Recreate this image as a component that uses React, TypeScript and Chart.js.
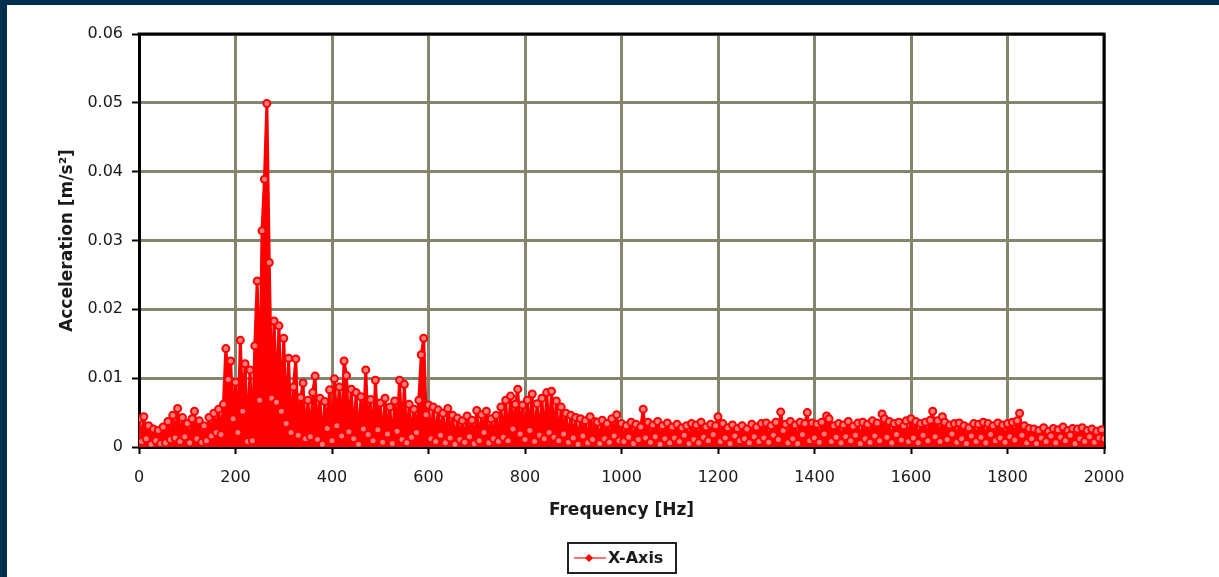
import React, { useEffect, useRef } from "react";
import { Chart, registerables } from "chart.js";

Chart.register(...registerables);

const FREQ_STEP_HZ = 5;
const SERIES_LABEL = "X-Axis";
const X_TITLE = "Frequency [Hz]";
const Y_TITLE = "Acceleration [m/s²]";
const X_TICK_LABELS = ["0", "200", "400", "600", "800", "1000", "1200", "1400", "1600", "1800", "2000"];
const Y_TICK_LABELS = ["0", "0.01", "0.02", "0.03", "0.04", "0.05", "0.06"];

// Acceleration amplitude [m/s²], one value every 5 Hz from 0 to 2000 Hz
const ACCEL = [
  .0041,.0008,.0044,.0012,.0031,.0004,.0026,.0009,.0024,.0005,
  .0029,.0006,.0037,.0011,.0046,.0013,.0056,.0008,.0043,.0015,
  .0034,.0006,.0041,.0052,.0012,.0038,.0007,.0031,.0009,.0043,
  .0016,.0049,.0021,.0055,.0018,.0062,.0143,.0098,.0125,.0041,
  .0094,.0021,.0155,.0052,.0121,.0008,.0112,.0009,.0147,.0241,
  .0068,.0314,.0389,.0499,.0268,.0071,.0183,.0065,.0176,.0052,
  .0158,.0034,.0129,.0021,.0087,.0128,.0017,.0072,.0093,.0012,
  .0068,.0015,.0079,.0103,.0011,.0071,.0004,.0066,.0027,.0083,
  .0009,.0099,.0031,.0087,.0016,.0125,.0104,.0022,.0084,.0012,
  .0079,.0004,.0073,.0026,.0112,.0018,.0069,.0009,.0097,.0025,
  .0064,.0007,.0071,.0019,.0058,.0005,.0067,.0023,.0097,.0011,
  .0091,.0006,.0062,.0014,.0055,.0021,.0068,.0134,.0158,.0047,
  .0061,.0012,.0058,.0008,.0054,.0017,.0049,.0006,.0056,.0013,
  .0046,.0004,.0042,.0011,.0038,.0007,.0045,.0015,.0039,.0005,
  .0053,.0009,.0047,.0021,.0052,.0006,.0041,.0012,.0046,.0008,
  .0058,.0014,.0068,.0009,.0074,.0026,.0062,.0084,.0019,.0061,
  .0011,.0068,.0024,.0077,.0008,.0063,.0017,.0071,.0012,.0079,
  .0021,.0081,.0014,.0067,.0009,.0058,.0019,.0049,.0007,.0046,
  .0013,.0043,.0004,.0041,.0016,.0038,.0006,.0044,.0011,.0037,
  .0036,.0005,.0039,.0012,.0034,.0007,.0041,.0016,.0047,.0009,
  .0034,.0008,.0031,.0014,.0036,.0005,.0033,.0011,.0029,.0055,
  .0013,.0036,.0007,.0032,.0015,.0037,.0004,.0031,.0012,.0035,
  .0006,.0029,.0013,.0033,.0008,.0028,.0017,.0031,.0005,.0034,
  .0011,.0032,.0006,.0036,.0014,.0029,.0009,.0033,.0018,.0031,
  .0044,.0008,.0034,.0013,.0028,.0005,.0032,.0016,.0027,.0009,
  .0031,.0012,.0026,.0006,.0033,.0015,.0029,.0008,.0034,.0013,
  .0035,.0007,.0031,.0017,.0036,.0011,.0051,.0024,.0033,.0006,
  .0037,.0012,.0032,.0005,.0036,.0018,.0034,.0050,.0009,.0035,
  .0013,.0033,.0007,.0036,.0019,.0045,.0041,.0008,.0031,.0014,
  .0034,.0006,.0032,.0015,.0037,.0009,.0030,.0017,.0035,.0005,
  .0036,.0012,.0033,.0007,.0038,.0016,.0035,.0009,.0048,.0041,
  .0014,.0037,.0006,.0034,.0018,.0036,.0010,.0031,.0038,.0008,
  .0041,.0013,.0037,.0006,.0034,.0017,.0036,.0009,.0039,.0052,
  .0015,.0038,.0008,.0044,.0036,.0011,.0032,.0019,.0034,.0007,
  .0035,.0012,.0031,.0005,.0028,.0016,.0034,.0008,.0033,.0014,
  .0036,.0006,.0034,.0018,.0031,.0009,.0035,.0013,.0032,.0007,
  .0034,.0015,.0036,.0010,.0038,.0049,.0017,.0031,.0006,.0027,
  .0012,.0026,.0005,.0024,.0013,.0028,.0008,.0023,.0016,.0027,
  .0006,.0025,.0014,.0029,.0009,.0024,.0017,.0027,.0005,.0026,
  .0012,.0028,.0008,.0024,.0015,.0026,.0007,.0023,.0013,.0025,
  .0012,
];

const FREQS = ACCEL.map((_, i) => i * FREQ_STEP_HZ);

const FONT = '"DejaVu Sans", Verdana, sans-serif';
const TEXT = "#1a1a1a";
const GRID = "#85856e";
const RED = "#ff0000";

const framePlugin = {
  id: "frameAndLegend",
  beforeDatasetsDraw(chart: any) {
    const { ctx, chartArea: a } = chart;
    ctx.save();
    ctx.strokeStyle = "#000";
    ctx.lineWidth = 3;
    ctx.beginPath();
    ctx.moveTo(a.left - 1.5, a.top);
    ctx.lineTo(a.right, a.top);
    ctx.lineTo(a.right, a.bottom + 1.5);
    ctx.stroke();
    ctx.restore();
  },
  afterDraw(chart: any) {
    const { ctx, chartArea: a } = chart;
    const cx = Math.round((a.left + a.right) / 2);
    const w = 108;
    const h = 30;
    const x0 = cx - w / 2;
    const y0 = Math.round(a.bottom + 96);
    const cy = y0 + h / 2;
    ctx.save();
    ctx.strokeStyle = "#222";
    ctx.lineWidth = 2;
    ctx.strokeRect(x0, y0, w, h);
    ctx.strokeStyle = "#ff7070";
    ctx.lineWidth = 2;
    ctx.beginPath();
    ctx.moveTo(cx - 48, cy);
    ctx.lineTo(cx - 16, cy);
    ctx.stroke();
    ctx.fillStyle = RED;
    ctx.beginPath();
    const mx = cx - 33;
    ctx.moveTo(mx, cy - 4);
    ctx.lineTo(mx + 4, cy);
    ctx.lineTo(mx, cy + 4);
    ctx.lineTo(mx - 4, cy);
    ctx.closePath();
    ctx.fill();
    ctx.fillStyle = TEXT;
    ctx.font = `bold 16px ${FONT}`;
    ctx.textBaseline = "middle";
    ctx.textAlign = "left";
    ctx.fillText(SERIES_LABEL, cx - 14, cy + 1);
    ctx.restore();
  },
};

export default function App() {
  const ref = useRef<HTMLCanvasElement | null>(null);

  useEffect(() => {
    if (!ref.current) return;
    const chart = new Chart(ref.current, {
      type: "line",
      data: {
        datasets: [
          {
            label: SERIES_LABEL,
            data: FREQS.map((f, i) => ({ x: f, y: ACCEL[i] })),
            borderColor: RED,
            borderWidth: 3,
            borderJoinStyle: "round",
            borderCapStyle: "round",
            fill: "origin",
            backgroundColor: RED,
            pointStyle: "circle",
            pointRadius: 3.5,
            pointBorderWidth: 2,
            pointBorderColor: RED,
            pointBackgroundColor: "#ff7a7a",
            tension: 0,
          },
        ],
      },
      options: {
        animation: false,
        responsive: false,
        devicePixelRatio: 1,
        layout: { padding: { left: 50, right: 115, top: 29, bottom: 56 } },
        plugins: {
          legend: { display: false },
          tooltip: { enabled: false },
          filler: { propagate: false },
        },
        scales: {
          x: {
            type: "linear",
            min: 0,
            max: 2000,
            afterFit: (s: any) => {
              s.height = 74;
            },
            afterBuildTicks: (s: any) => {
              s.ticks = X_TICK_LABELS.map((t) => ({ value: Number(t) }));
            },
            ticks: {
              stepSize: 200,
              maxRotation: 0,
              autoSkip: false,
              padding: 14,
              color: TEXT,
              font: { family: FONT, size: 16 },
              callback: (_v: any, i: number) => X_TICK_LABELS[i],
            },
            grid: {
              color: GRID,
              lineWidth: 3,
              tickLength: 7,
              tickColor: "#000",
              tickWidth: 2,
            },
            border: { color: "#000", width: 3 },
            title: {
              display: true,
              text: X_TITLE,
              color: TEXT,
              font: { family: FONT, size: 17, weight: "bold" },
              padding: 0,
            },
          },
          y: {
            type: "linear",
            min: 0,
            max: 0.06,
            afterFit: (s: any) => {
              s.width = 82;
            },
            afterBuildTicks: (s: any) => {
              s.ticks = Y_TICK_LABELS.map((t) => ({ value: Number(t) }));
            },
            ticks: {
              stepSize: 0.01,
              padding: 9,
              color: TEXT,
              font: { family: FONT, size: 16 },
              callback: (_v: any, i: number) => Y_TICK_LABELS[i],
            },
            grid: {
              color: GRID,
              lineWidth: 3,
              tickLength: 7,
              tickColor: "#000",
              tickWidth: 2,
            },
            border: { color: "#000", width: 3 },
            title: {
              display: true,
              text: Y_TITLE,
              color: TEXT,
              font: { family: FONT, size: 17, weight: "bold" },
              padding: 0,
            },
          },
        },
      },
      plugins: [framePlugin],
    } as any);
    return () => chart.destroy();
  }, []);

  return (
    <div style={{ position: "fixed", left: 0, top: 0, width: 1219, height: 577, background: "#01304f" }}>
      <div style={{ position: "absolute", left: 7, top: 5, width: 1212, height: 572, background: "#ffffff" }}>
        <canvas ref={ref} width={1212} height={572} style={{ display: "block" }} />
      </div>
    </div>
  );
}
